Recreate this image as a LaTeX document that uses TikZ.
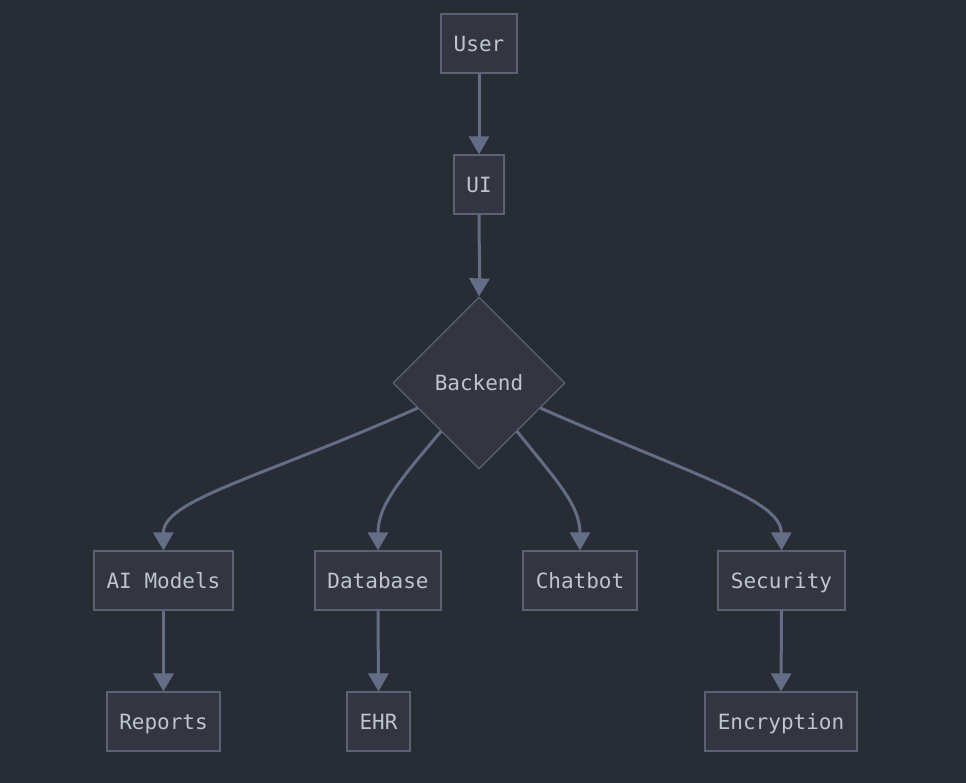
\documentclass[tikz,border=0pt]{standalone}
\usepackage{fontspec}
\setmonofont{DejaVu Sans Mono}
\usetikzlibrary{shapes.geometric,arrows.meta,calc}
\definecolor{bgc}{RGB}{40,44,52}
\definecolor{nodefill}{RGB}{51,54,64}
\definecolor{nodeline}{RGB}{92,98,116}
\definecolor{edgec}{RGB}{100,109,134}
\definecolor{txtc}{RGB}{190,196,208}
\tikzset{
  box/.style={draw=nodeline, fill=nodefill, line width=1.2pt, minimum height=59pt, inner sep=0pt,
    text height=15.5pt, text depth=0pt,
    font=\fontsize{21}{24}\selectfont\ttfamily, text=txtc},
  dia/.style={diamond, draw=nodeline, fill=nodefill, line width=1.2pt, minimum width=172pt, minimum height=172pt,
    inner sep=0pt, aspect=1, text height=15.5pt, text depth=0pt,
    font=\fontsize{21}{24}\selectfont\ttfamily, text=txtc},
  conn/.style={draw=edgec, line width=3pt, -{Triangle[width=20pt,length=18pt]}}
}
\begin{document}
\begin{tikzpicture}[x=1pt,y=-1pt]
\fill[bgc] (0,0) rectangle (966,783);
\useasboundingbox (0,0) rectangle (966,783);
\node[box, minimum width=76pt] (user) at (479,43.5) {User};
\node[box, minimum width=50pt] (ui) at (479,184.5) {UI};
\node[dia] (bk) at (479,383) {Backend};
\node[box, minimum width=139pt] (ai) at (163.5,580.5) {AI Models};
\node[box, minimum width=126pt] (db) at (378,580.5) {Database};
\node[box, minimum width=114pt] (cb) at (580,580.5) {Chatbot};
\node[box, minimum width=127pt] (sec) at (781.5,580.5) {Security};
\node[box, minimum width=113pt] (rep) at (163.5,721.5) {Reports};
\node[box, minimum width=63pt] (ehr) at (378.5,721.5) {EHR};
\node[box, minimum width=152pt] (enc) at (781,721.5) {Encryption};

\coordinate (s1) at ($(bk.west)!0.29!(bk.south)$);
\coordinate (s2) at ($(bk.west)!0.56!(bk.south)$);
\coordinate (s3) at ($(bk.east)!0.56!(bk.south)$);
\coordinate (s4) at ($(bk.east)!0.29!(bk.south)$);

\draw[conn] (user.south) -- (ui.north);
\draw[conn] (ui.south) .. controls (479,250) and (480,260) .. (bk.north);
\draw[conn] (s1) .. controls (260,478) and (163,500) .. (ai.north);
\draw[conn] (s2) .. controls (400,480) and (378,505) .. (db.north);
\draw[conn] (s3) .. controls (556,480) and (580,505) .. (cb.north);
\draw[conn] (s4) .. controls (700,478) and (781,500) .. (sec.north);
\draw[conn] (ai.south) -- (rep.north);
\draw[conn] (db.south) -- (ehr.north);
\draw[conn] (sec.south) -- (enc.north);
\end{tikzpicture}
\end{document}
